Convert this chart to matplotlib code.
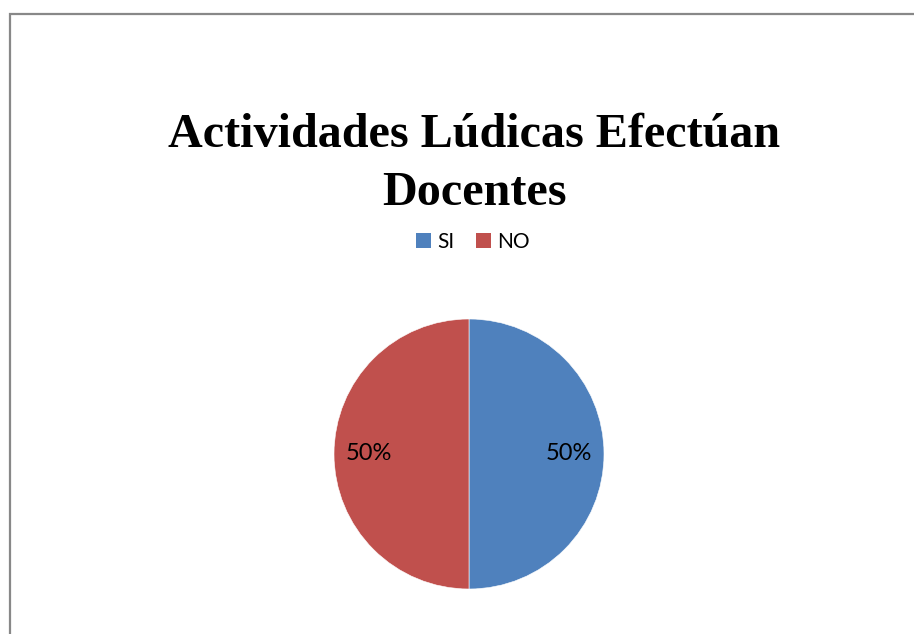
import matplotlib.pyplot as plt
from matplotlib.patches import Rectangle, Patch

# data
labels = ['SI', 'NO']
values = [50, 50]
colors = ['#4F81BD', '#C0504D']
title = 'Actividades Lúdicas Efectúan\nDocentes'

W, H = 914, 634
fig = plt.figure(figsize=(W / 100, H / 100), dpi=100)

# outer chart border (right and bottom run off the image)
fig.patches.append(Rectangle((9.5 / W, -0.1), 1.2, (H - 13.5) / H + 0.1,
                             transform=fig.transFigure, fill=False,
                             edgecolor='#888888', linewidth=1.6))

fig.text(474 / W, 1 - 164 / H, title, ha='center', va='center',
         family='Liberation Serif', fontweight='bold', fontsize=34.7,
         linespacing=1.4)

# pie
cx, cy, r = 469, 454, 135
ax = fig.add_axes([(cx - r) / W, (H - cy - r) / H, 2 * r / W, 2 * r / H])
ax.pie(values, colors=colors, startangle=90, counterclock=False,
       autopct='%1.0f%%', pctdistance=0.74,
       wedgeprops=dict(edgecolor='white', linewidth=0.4),
       textprops=dict(family='Lato', fontsize=17))
ax.set_xlim(-1, 1)
ax.set_ylim(-1, 1)
ax.set_aspect('equal')

handles = [Patch(facecolor=c, label=l) for c, l in zip(colors, labels)]
fig.legend(handles=handles, loc='center', bbox_to_anchor=(473 / W, 1 - 242 / H),
           ncol=2, frameon=False, prop=dict(family='Lato', size=15),
           handlelength=0.75, handleheight=0.75, handletextpad=0.3,
           columnspacing=1.0)

fig.savefig('out.png', dpi=100)
